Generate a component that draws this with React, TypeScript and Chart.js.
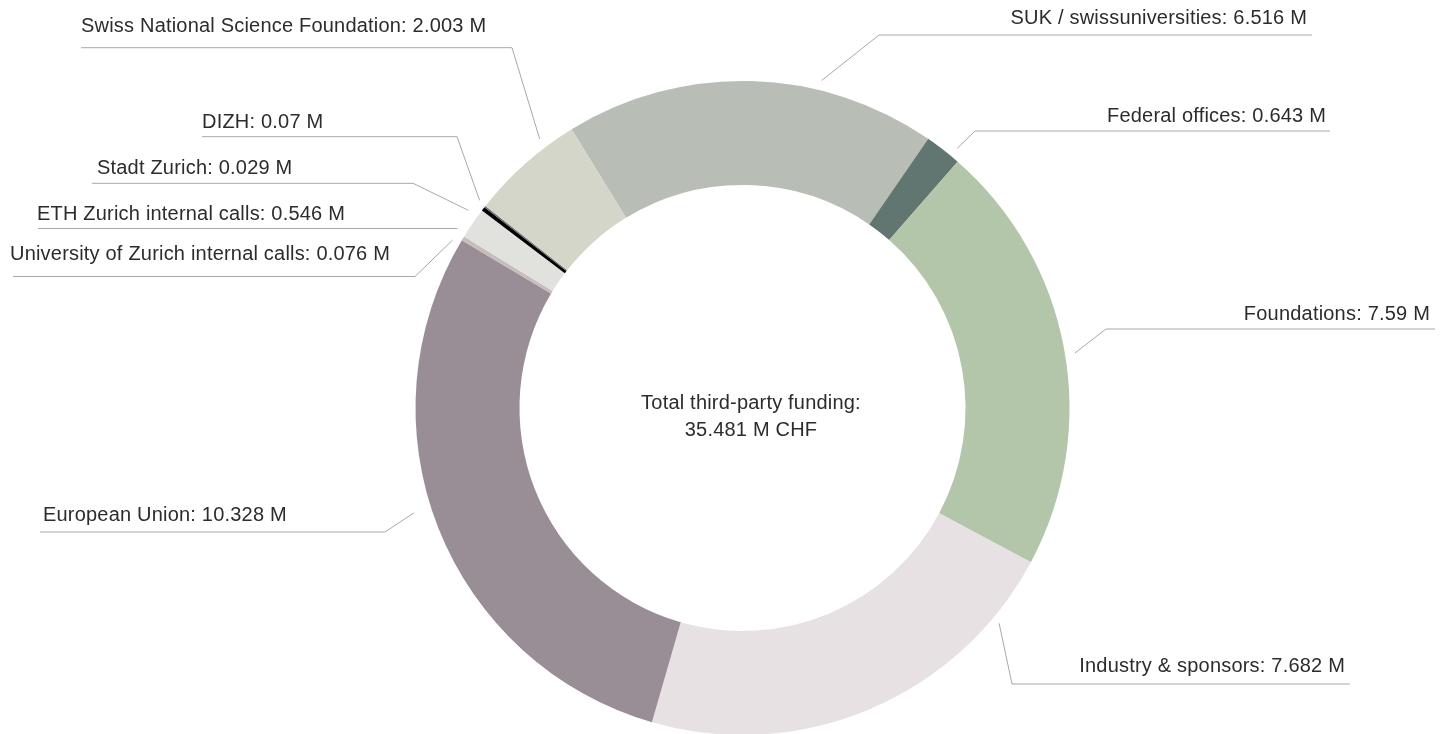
import React, { useEffect, useRef } from "react";
import { Chart, registerables } from "chart.js";

Chart.register(...registerables);

// ---- data ----
const categories = [
  "SUK / swissuniversities",
  "Federal offices",
  "Foundations",
  "Industry & sponsors",
  "European Union",
  "University of Zurich internal calls",
  "ETH Zurich internal calls",
  "DIZH",
  "Stadt Zurich",
  "Swiss National Science Foundation",
];
const values = [6.516, 0.643, 7.59, 7.682, 10.328, 0.076, 0.546, 0.07, 0.029, 2.003];
const totalLabel = ["Total third-party funding:", "35.481 M CHF"];

// ---- styles ----
const colors = [
  "#b8bdb5",
  "#617670",
  "#b4c6a9",
  "#e7e1e3",
  "#9a8e96",
  "#c7bdbd",
  "#e1e2dd",
  "#000000",
  "#6d6d6d",
  "#d5d6ca",
];

// ---- label layout (annotation placement) ----
type LabelLayout = {
  side: "left" | "right";
  textX: number;
  textY: number;
  lineY: number;
  lineFrom: number;
  lineTo: number;
  anchorDeg: number;
  gap: number;
};
const labelLayouts: LabelLayout[] = [
  { side: "right", textX: 1307, textY: 24, lineY: 35, lineFrom: 879, lineTo: 1312, anchorDeg: 13.6, gap: 10 },
  { side: "right", textX: 1326, textY: 122, lineY: 131, lineFrom: 975, lineTo: 1330, anchorDeg: 39.6, gap: 10 },
  { side: "right", textX: 1430, textY: 320, lineY: 329, lineFrom: 1106, lineTo: 1435, anchorDeg: 80.6, gap: 10 },
  { side: "right", textX: 1345, textY: 672, lineY: 684, lineFrom: 1012, lineTo: 1350, anchorDeg: 130, gap: 8 },
  { side: "left", textX: 43, textY: 521, lineY: 532, lineFrom: 40, lineTo: 385, anchorDeg: 252.3, gap: 18 },
  { side: "left", textX: 10, textY: 260, lineY: 276.5, lineFrom: 13, lineTo: 415, anchorDeg: 300.1, gap: 8 },
  { side: "left", textX: 37, textY: 219.5, lineY: 228.5, lineFrom: 38, lineTo: 457, anchorDeg: 302.2, gap: 10 },
  { side: "left", textX: 202, textY: 127.7, lineY: 136.7, lineFrom: 202, lineTo: 457, anchorDeg: 308.3, gap: 8 },
  { side: "left", textX: 97, textY: 174, lineY: 183.3, lineFrom: 92, lineTo: 413, anchorDeg: 305.8, gap: 11 },
  { side: "left", textX: 81, textY: 31.5, lineY: 47.7, lineFrom: 81, lineTo: 512, anchorDeg: 323, gap: 10 },
];

const FONT = "20px 'Liberation Sans', Arial, Helvetica, sans-serif";
const TEXT_COLOR = "#2c2c2c";
const LINE_COLOR = "#a8a8a8";

const labelPlugin = {
  id: "outerLabels",
  afterDraw(chart: any) {
    const ctx = chart.ctx as CanvasRenderingContext2D;
    const meta = chart.getDatasetMeta(0);
    const arc0 = meta.data[0] as any;
    if (!arc0) return;
    const cx = arc0.x;
    const cy = arc0.y;
    const R0 = arc0.outerRadius;
    ctx.save();
    ctx.font = FONT;
    try {
      (ctx as any).letterSpacing = "0.2px";
    } catch (e) {}
    ctx.fillStyle = TEXT_COLOR;
    ctx.strokeStyle = LINE_COLOR;
    ctx.lineWidth = 1;
    ctx.textBaseline = "alphabetic";

    categories.forEach((cat, i) => {
      const L = labelLayouts[i];
      const text = `${cat}: ${values[i]} M`;
      const R = R0 + L.gap;
      const a = ((L.anchorDeg - 90) * Math.PI) / 180;
      const ax = cx + R * Math.cos(a);
      const ay = cy + R * Math.sin(a);
      const elbowX = L.side === "right" ? L.lineFrom : L.lineTo;
      ctx.beginPath();
      ctx.moveTo(ax, ay);
      ctx.lineTo(elbowX, L.lineY);
      ctx.lineTo(L.side === "right" ? L.lineTo : L.lineFrom, L.lineY);
      ctx.stroke();
      ctx.textAlign = L.side === "right" ? "right" : "left";
      ctx.fillText(text, L.textX, L.textY);
    });

    ctx.textAlign = "center";
    ctx.fillText(totalLabel[0], cx + 8.5, cy + 0.5);
    ctx.fillText(totalLabel[1], cx + 8.5, cy + 27.8);
    ctx.restore();
  },
};

export default function App() {
  const ref = useRef<HTMLCanvasElement | null>(null);
  useEffect(() => {
    if (!ref.current) return;
    const chart = new Chart(ref.current, {
      type: "doughnut",
      data: {
        labels: categories,
        datasets: [
          {
            data: values,
            backgroundColor: colors,
            borderWidth: 0,
            hoverOffset: 0,
          },
        ],
      },
      options: {
        responsive: false,
        animation: false,
        rotation: -31.5,
        cutout: "68.2%",
        layout: { padding: { top: 81, bottom: 1, left: 39, right: 0 } },
        plugins: {
          legend: { display: false },
          tooltip: { enabled: false },
        },
      },
      plugins: [labelPlugin],
    });
    return () => chart.destroy();
  }, []);
  return (
    <div style={{ position: "fixed", left: 0, top: 0, width: 1446, height: 736, background: "#fff" }}>
      <canvas ref={ref} width={1446} height={736} style={{ display: "block" }} />
    </div>
  );
}
